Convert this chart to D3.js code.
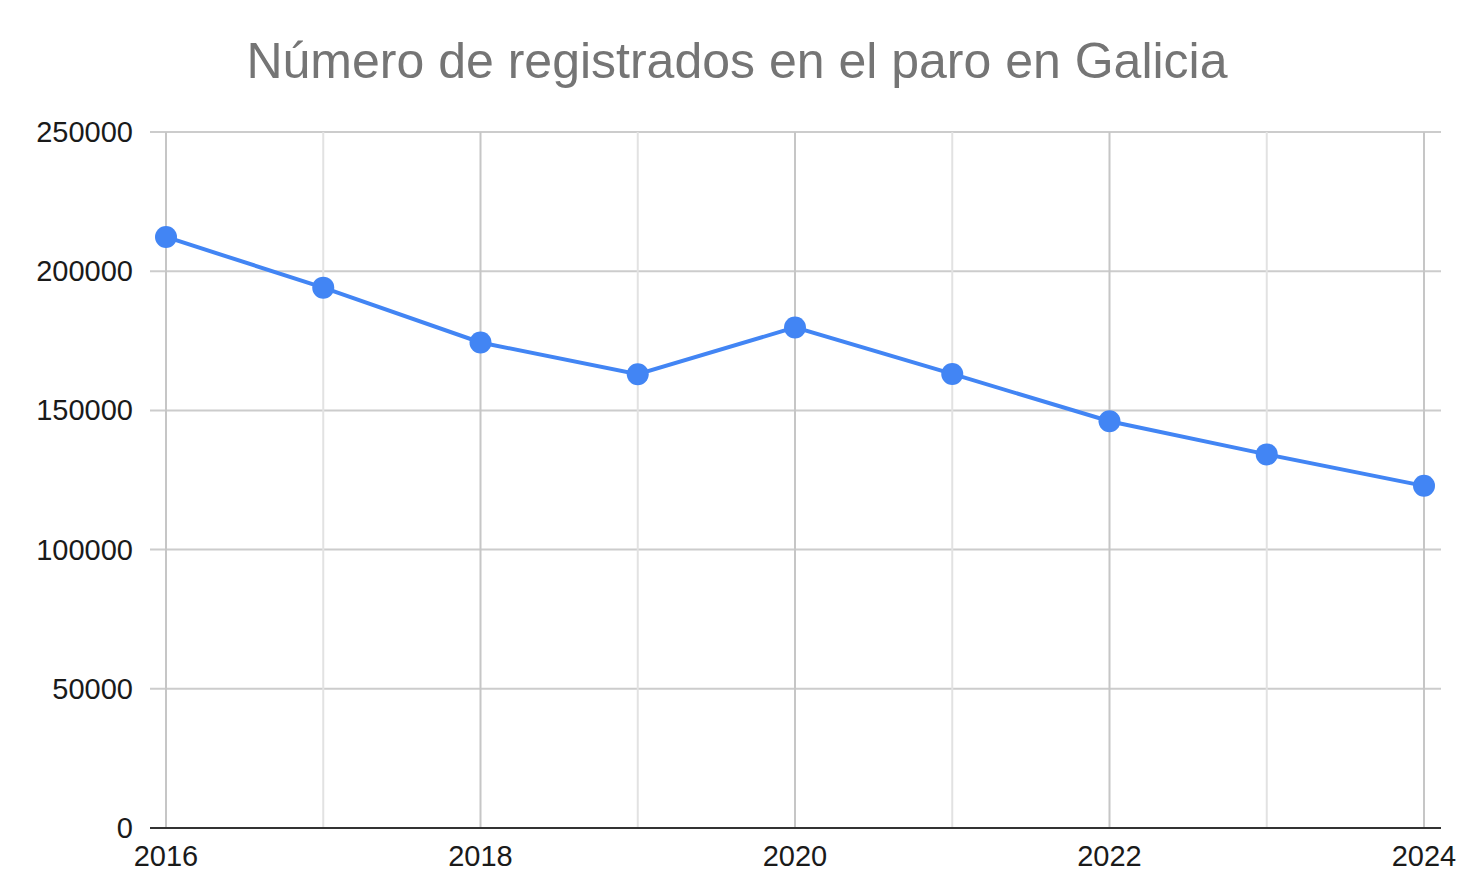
<!DOCTYPE html>
<html>
<head>
<meta charset="utf-8">
<script src="https://cdn.jsdelivr.net/npm/d3@7"></script>
<style>
  body { margin: 0; background: #fff; }
  text { font-family: "Liberation Sans", Arial, sans-serif; }
</style>
</head>
<body>
<svg width="1472" height="882"></svg>
<script>
const years = [2016, 2017, 2018, 2019, 2020, 2021, 2022, 2023, 2024];
const paro = [212300, 194100, 174400, 163000, 179800, 163100, 146100, 134200, 122900];
const yTicks = [0, 50000, 100000, 150000, 200000, 250000];
const xLabels = [2016, 2018, 2020, 2022, 2024];
const title = 'Número de registrados en el paro en Galicia';

const svg = d3.select('svg');
const plotL = 150, plotR = 1441, plotT = 132, plotB = 828;

const x = d3.scaleLinear().domain([2016, 2024]).range([166, 1424]);
const y = d3.scaleLinear().domain([0, 250000]).range([plotB, plotT]);

svg.append('text')
  .attr('x', 737).attr('y', 78)
  .attr('text-anchor', 'middle')
  .attr('font-size', 50)
  .attr('fill', '#757575')
  .text(title);

// horizontal grid
svg.append('g').selectAll('line')
  .data(yTicks.filter(d => d > 0))
  .join('line')
  .attr('x1', plotL).attr('x2', plotR)
  .attr('y1', d => y(d)).attr('y2', d => y(d))
  .attr('stroke', '#cccccc').attr('stroke-width', 2);

// vertical grid, even years a bit darker
svg.append('g').selectAll('line')
  .data(years)
  .join('line')
  .attr('x1', d => x(d)).attr('x2', d => x(d))
  .attr('y1', plotT).attr('y2', plotB)
  .attr('stroke', d => xLabels.includes(d) ? '#c6c6c6' : '#e2e2e2')
  .attr('stroke-width', 2);

// baseline
svg.append('line')
  .attr('x1', plotL).attr('x2', plotR)
  .attr('y1', y(0)).attr('y2', y(0))
  .attr('stroke', '#333').attr('stroke-width', 2);

// y labels
svg.append('g').selectAll('text')
  .data(yTicks)
  .join('text')
  .attr('x', 133).attr('y', d => y(d) + 10)
  .attr('text-anchor', 'end')
  .attr('font-size', 29)
  .attr('fill', '#1a1a1a')
  .text(d => d);

// x labels
svg.append('g').selectAll('text')
  .data(xLabels)
  .join('text')
  .attr('x', d => x(d)).attr('y', 866)
  .attr('text-anchor', 'middle')
  .attr('font-size', 29)
  .attr('fill', '#1a1a1a')
  .text(d => d);

const line = d3.line().x((d, i) => x(years[i])).y(d => y(d));

svg.append('path')
  .datum(paro)
  .attr('d', line)
  .attr('fill', 'none')
  .attr('stroke', '#4285f4')
  .attr('stroke-width', 4);

svg.append('g').selectAll('circle')
  .data(paro)
  .join('circle')
  .attr('cx', (d, i) => x(years[i]))
  .attr('cy', d => y(d))
  .attr('r', 11)
  .attr('fill', '#4285f4');
</script>
</body>
</html>
